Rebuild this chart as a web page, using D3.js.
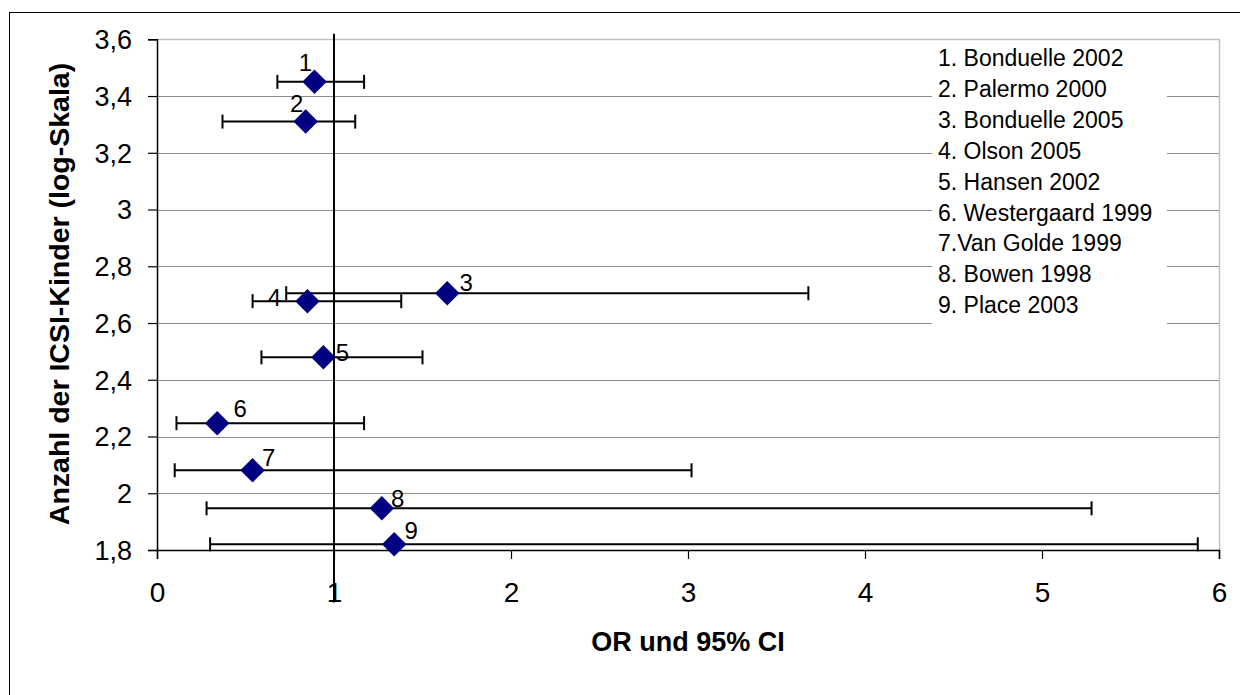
<!DOCTYPE html>
<html>
<head>
<meta charset="utf-8">
<script src="https://cdn.jsdelivr.net/npm/d3@7"></script>
<style>
 body { margin: 0; background: #fff; }
 text { font-family: Arial, "Liberation Sans", sans-serif; }
</style>
</head>
<body>
<script>
const width = 1240;
const height = 695;

// studies, in legend order
const studies = ["1. Bonduelle 2002", "2. Palermo 2000", "3. Bonduelle 2005", "4. Olson 2005",
 "5. Hansen 2002", "6. Westergaard 1999", "7.Van Golde 1999", "8. Bowen 1998", "9. Place 2003"];
const pointLabels = ["1", "2", "3", "4", "5", "6", "7", "8", "9"];

// odds ratio, 95% CI and log10 of number of ICSI children
const orValues = [0.89, 0.84, 1.64, 0.85, 0.94, 0.34, 0.54, 1.27, 1.34];
const ciLow = [0.68, 0.37, 0.73, 0.54, 0.59, 0.11, 0.10, 0.28, 0.30];
const ciHigh = [1.17, 1.12, 3.68, 1.38, 1.50, 1.17, 3.02, 5.28, 5.88];
const logN = [3.45, 3.31, 2.705, 2.677, 2.479, 2.247, 2.081, 1.947, 1.82];

const xTicks = [0, 1, 2, 3, 4, 5, 6];
const yTicks = [1.8, 2.0, 2.2, 2.4, 2.6, 2.8, 3.0, 3.2, 3.4, 3.6];
const yTickLabels = ["1,8", "2", "2,2", "2,4", "2,6", "2,8", "3", "3,2", "3,4", "3,6"];

// reference line at OR = 1
const refX = 1;
const refY = [3.62, 1.615];

// where each number sits relative to its diamond
const labelOffsets = [[-9, -19], [-9, -18], [19, -11], [-33, -4], [19, -5], [23, -15], [16, -13], [16, -10], [17, -14]];

const plot = {left: 157, right: 1219, top: 39.3, bottom: 550};

const x = d3.scaleLinear().domain([0, 6]).range([plot.left, plot.right]);
const y = d3.scaleLinear().domain([1.8, 3.6]).range([plot.bottom, plot.top]);

const svg = d3.select("body")
 .append("svg")
  .attr("width", width)
  .attr("height", height);

svg.append("rect")
 .attr("width", width).attr("height", height).attr("fill", "#fff");

// outer chart border (runs off the picture on the right and bottom)
svg.append("rect")
 .attr("x", 9.5).attr("y", 12.5)
 .attr("width", 1260).attr("height", 700)
 .attr("fill", "none").attr("stroke", "#000").attr("stroke-width", 1);

// gridlines
svg.append("g")
 .selectAll("line")
 .data(yTicks.slice(0, -1))
 .join("line")
  .attr("x1", plot.left).attr("x2", plot.right)
  .attr("y1", d => Math.round(y(d)) + 0.5).attr("y2", d => Math.round(y(d)) + 0.5)
  .attr("stroke", "#8c8c8c").attr("stroke-width", 1);

// plot area border top / right
svg.append("path")
 .attr("d", `M${plot.left},${Math.round(plot.top) + 0.5}H${plot.right + 0.5}V${plot.bottom}`)
 .attr("fill", "none").attr("stroke", "#c0c0c0").attr("stroke-width", 1.5);

// legend
const legend = svg.append("g");
legend.append("rect")
 .attr("x", 932).attr("y", 41).attr("width", 235).attr("height", 292)
 .attr("fill", "#fff");
legend.selectAll("text")
 .data(studies)
 .join("text")
  .attr("x", 938)
  .attr("y", (d, i) => 58 + i * 30.9)
  .attr("dominant-baseline", "central")
  .attr("font-size", 23)
  .attr("fill", "#000")
  .text(d => d);

// axes
const xAxis = d3.axisBottom(x).tickValues(xTicks).tickSize(9).tickFormat(d => d);
const gx = svg.append("g")
 .attr("transform", `translate(0,${plot.bottom})`)
 .call(xAxis);
gx.select(".domain").attr("stroke", "#000").attr("stroke-width", 1.5);
gx.selectAll(".tick line").attr("stroke", "#000").attr("stroke-width", 1.2);
gx.selectAll(".tick text")
 .attr("font-size", 28).attr("fill", "#000")
 .attr("dy", null).attr("y", 52);

const yAxis = d3.axisLeft(y).tickValues(yTicks).tickSize(9).tickFormat((d, i) => yTickLabels[i]);
const gy = svg.append("g")
 .attr("transform", `translate(${plot.left},0)`)
 .call(yAxis);
gy.select(".domain").attr("stroke", "#000").attr("stroke-width", 1.5);
gy.selectAll(".tick line").attr("stroke", "#000").attr("stroke-width", 1.2);
gy.selectAll(".tick text")
 .attr("font-size", 27).attr("fill", "#000")
 .attr("x", -25).attr("dy", "0.35em");

// reference line
svg.append("line")
 .attr("x1", x(refX)).attr("x2", x(refX))
 .attr("y1", y(refY[0])).attr("y2", y(refY[1]))
 .attr("stroke", "#000").attr("stroke-width", 2);

// error bars
const bars = svg.append("g")
 .selectAll("g")
 .data(orValues.map((d, i) => ({or: d, lo: ciLow[i], hi: ciHigh[i], n: logN[i], label: pointLabels[i], off: labelOffsets[i]})))
 .join("g");

bars.append("line")
 .attr("x1", d => x(d.lo)).attr("x2", d => x(d.hi))
 .attr("y1", d => y(d.n)).attr("y2", d => y(d.n))
 .attr("stroke", "#000").attr("stroke-width", 2);

bars.selectAll(".cap")
 .data(d => [{v: d.lo, n: d.n}, {v: d.hi, n: d.n}])
 .join("line")
  .attr("class", "cap")
  .attr("x1", d => x(d.v)).attr("x2", d => x(d.v))
  .attr("y1", d => y(d.n) - 7).attr("y2", d => y(d.n) + 7)
  .attr("stroke", "#000").attr("stroke-width", 2);

// diamonds
bars.append("path")
 .attr("d", d3.symbol(d3.symbolSquare, 300)())
 .attr("transform", d => `translate(${x(d.or)},${y(d.n)}) rotate(45)`)
 .attr("fill", "#000080");

bars.append("text")
 .attr("x", d => x(d.or) + d.off[0])
 .attr("y", d => y(d.n) + d.off[1])
 .attr("text-anchor", "middle")
 .attr("dominant-baseline", "central")
 .attr("font-size", 24)
 .attr("fill", "#000")
 .text(d => d.label);

// axis titles
svg.append("text")
 .attr("x", 688).attr("y", 642)
 .attr("text-anchor", "middle")
 .attr("dominant-baseline", "central")
 .attr("font-size", 27).attr("font-weight", "bold")
 .text("OR und 95% CI");

svg.append("text")
 .attr("transform", "translate(59,294) rotate(-90)")
 .attr("text-anchor", "middle")
 .attr("dominant-baseline", "central")
 .attr("font-size", 28.5).attr("font-weight", "bold")
 .text("Anzahl der ICSI-Kinder (log-Skala)");
</script>
</body>
</html>
